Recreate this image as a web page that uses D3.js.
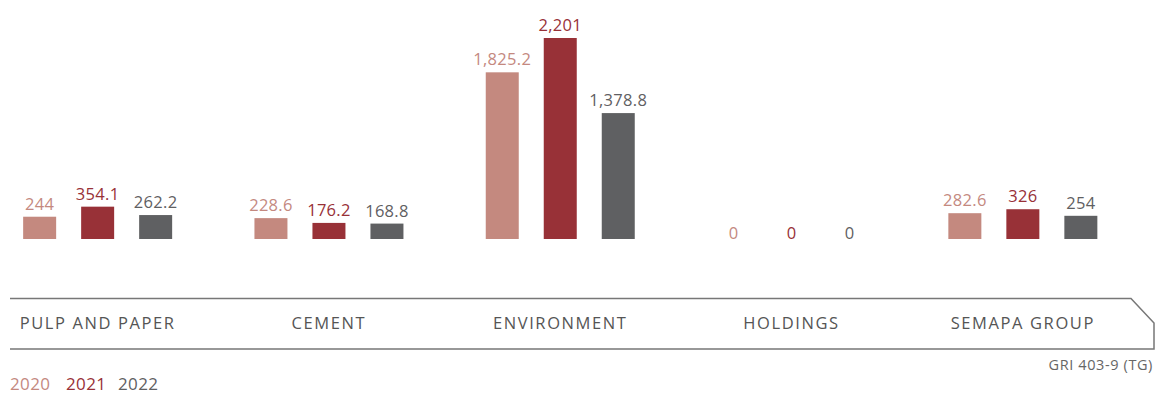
<!DOCTYPE html>
<html><head><meta charset="utf-8">
<script src="https://cdn.jsdelivr.net/npm/d3@7"></script>
<style>body{margin:0;background:#fff}svg{display:block}text{font-family:"Open Sans",sans-serif}</style>
</head><body><div id="chart"></div>
<script>
const categories = ["PULP AND PAPER","CEMENT","ENVIRONMENT","HOLDINGS","SEMAPA GROUP"];
const years = ["2020","2021","2022"];
const values2020 = [244, 228.6, 1825.2, 0, 282.6];
const values2021 = [354.1, 176.2, 2201, 0, 326];
const values2022 = [262.2, 168.8, 1378.8, 0, 254];
const labels2020 = ["244","228.6","1,825.2","0","282.6"];
const labels2021 = ["354.1","176.2","2,201","0","326"];
const labels2022 = ["262.2","168.8","1,378.8","0","254"];
const colors = ["#c4897f","#983137","#5f6062"];
const note = "GRI 403-9 (TG)";

const W = 1155, H = 394;
const svg = d3.select("#chart").append("svg").attr("width", W).attr("height", H);

const series = [values2020, values2021, values2022];
const seriesLabels = [labels2020, labels2021, labels2022];

const x0 = d3.scaleBand().domain(categories).range([-18, 1138.5]).padding(0);
const x1 = d3.scaleBand().domain(years).range([0, 149]).paddingInner(25/58).paddingOuter(0);
const y = d3.scaleLinear().domain([0, 2201]).range([239, 38]);

categories.forEach((c, i) => {
  const gx = x0(c) + x0.bandwidth()/2 - 74.5;
  years.forEach((yr, j) => {
    const v = series[j][i];
    const bx = gx + x1(yr);
    if (v > 0) {
      svg.append("rect").attr("x", bx).attr("y", y(v))
        .attr("width", x1.bandwidth()).attr("height", y(0) - y(v))
        .attr("fill", colors[j]);
    }
    svg.append("text").attr("x", bx + x1.bandwidth()/2)
      .attr("y", v > 0 ? y(v) - 7 : y(0))
      .attr("text-anchor", "middle").attr("font-size", 16.5)
      .attr("letter-spacing", 0.3)
      .attr("fill", colors[j]).text(seriesLabels[j][i]);
  });
  svg.append("text").attr("x", x0(c) + x0.bandwidth()/2).attr("y", 329)
    .attr("text-anchor", "middle").attr("font-size", 16.5)
    .attr("letter-spacing", 1.6)
    .attr("fill", "#555").text(c);
});

svg.append("path")
  .attr("d", "M10,298.5 L1131,298.5 L1154,323 L1154,349 L10,349")
  .attr("fill", "none").attr("stroke", "#777").attr("stroke-width", 1.5);

svg.append("text").attr("x", 1153).attr("y", 370).attr("text-anchor", "end")
  .attr("font-size", 14.5).attr("letter-spacing", 0.6)
  .attr("fill", "#666").text(note);

const legX = [10, 66, 118];
years.forEach((yr, j) => {
  svg.append("text").attr("x", legX[j]).attr("y", 390).attr("font-size", 17)
    .attr("letter-spacing", 0.4)
    .attr("fill", colors[j]).text(yr);
});
</script></body></html>
